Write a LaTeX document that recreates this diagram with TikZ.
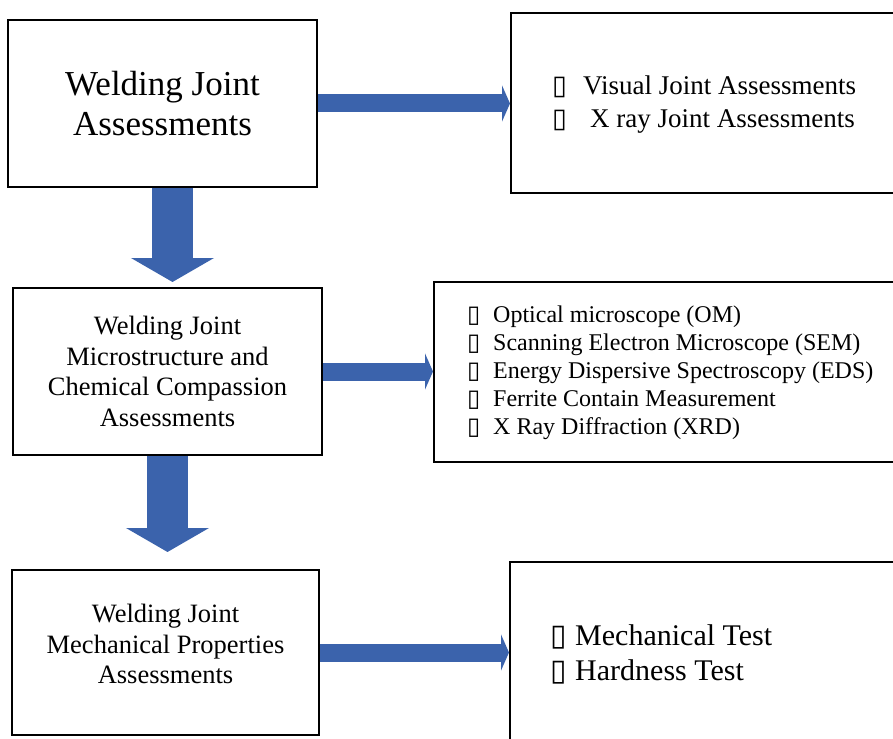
\documentclass[tikz,border=0pt]{standalone}
\usepackage{fontspec}
\setmainfont{Liberation Serif}
\newfontfamily\symfont{DejaVu Sans}
\usetikzlibrary{arrows.meta}
\definecolor{flowblue}{RGB}{59,99,172}
\newcommand{\bx}[1]{\makebox[#1][l]{\symfont ▯}}

\begin{document}
\begin{tikzpicture}[
        x = 1pt, y = -1pt, % one unit per pixel, y pointing down
        box/.style = {draw = black, line width = 2pt, fill = white,
                      align = center, inner sep = 0pt},
        list/.style = {align = left, inner sep = 0pt, anchor = west},
        hflow/.style = {draw = flowblue, line width = 18pt,
                        -{Triangle[length = 8pt, width = 36pt]}},
        vflow/.style = {draw = flowblue, line width = 41pt,
                        -{Triangle[length = 24pt, width = 82pt]}}
    ]

    \path[use as bounding box, clip] (0,0) rectangle (893,738);

    % left column
    \node[box, minimum width = 309pt, minimum height = 167pt,
          font = \fontsize{35}{40}\selectfont] (A) at (162.5,103.5)
          {Welding Joint\\Assessments};
    \node[box, minimum width = 309pt, minimum height = 167pt,
          font = \fontsize{26.5}{30.5}\selectfont] (B) at (167.5,371.5)
          {Welding Joint\\Microstructure and\\Chemical Compassion\\Assessments};
    \node[box, minimum width = 307pt, minimum height = 165pt,
          font = \fontsize{26.5}{30.5}\selectfont] (C) at (165.5,652.5)
          {Welding Joint\\Mechanical Properties\\Assessments\\[-14pt]};

    % right column (runs off the page)
    \node[box, minimum width = 402pt, minimum height = 180pt] (AR) at (712,103) {};
    \node[box, minimum width = 479pt, minimum height = 180pt] (BR) at (673.5,372) {};
    \node[box, minimum width = 403pt, minimum height = 196pt] (CR) at (711.5,660) {};

    \node[list, font = \fontsize{27}{33}\selectfont] (ARlist) at (552,104.5)
          {\bx{31pt}Visual Joint Assessments\\
           \bx{31pt}\hspace{7pt}X ray Joint Assessments};
    \node[list, font = \fontsize{24}{28}\selectfont] (BRlist) at (467,373)
          {\bx{26pt}Optical microscope (OM)\\
           \bx{26pt}Scanning Electron Microscope (SEM)\\
           \bx{26pt}Energy Dispersive Spectroscopy (EDS)\\
           \bx{26pt}Ferrite Contain Measurement\\
           \bx{26pt}X Ray Diffraction (XRD)};
    \node[list, font = \fontsize{30}{35}\selectfont] (CRlist) at (550,654)
          {\bx{25pt}Mechanical Test\\
           \bx{25pt}Hardness Test};

    % block arrows
    \draw[hflow] (A.east) -- (A.east -| AR.west);
    \draw[hflow] (B.east) -- (B.east -| BR.west);
    \draw[hflow] (C.east) -- (C.east -| CR.west);
    \draw[vflow, shorten > = 5pt] ([xshift = 10pt]A.south)
        -- ([xshift = 10pt]A.south |- B.north);
    \draw[vflow, shorten > = 17pt] (B.south) -- (B.south |- C.north);
\end{tikzpicture}
\end{document}
